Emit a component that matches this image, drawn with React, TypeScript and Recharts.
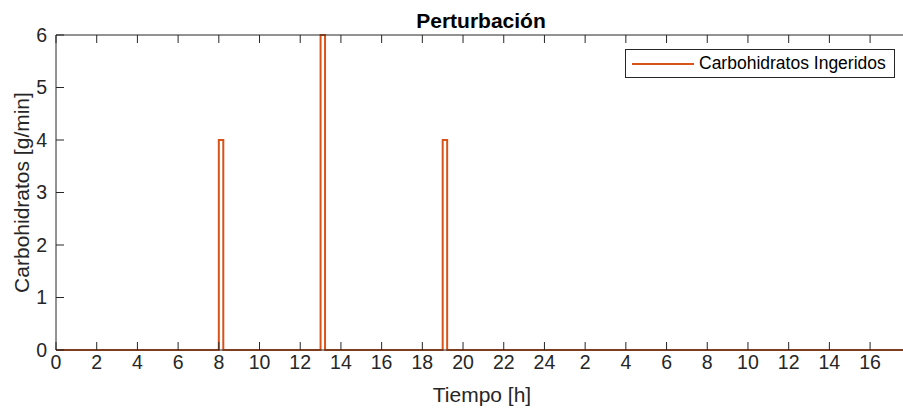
import { LineChart, Line, XAxis, YAxis } from "recharts";

// time in hours (simulation runs 2500 min), carbohydrate intake in g/min
const TIME_H = [0, 8, 8.22, 13, 13.22, 19, 19.22, 2500 / 60];
const CARBS = [0, 4, 0, 6, 0, 4, 0, 0];

const X_TICKS = [0, 2, 4, 6, 8, 10, 12, 14, 16, 18, 20, 22, 24, 26, 28, 30, 32, 34, 36, 38, 40];
const X_TICK_LABELS = ["0", "2", "4", "6", "8", "10", "12", "14", "16", "18", "20", "22", "24", "2", "4", "6", "8", "10", "12", "14", "16"];
const Y_TICKS = [0, 1, 2, 3, 4, 5, 6];

const FONT = '"Liberation Sans", Arial, Helvetica, sans-serif';
const AXIS = "#262626";
const ORANGE = "#D95319";

const W = 920;
const H = 409;
const PLOT = { left: 56, top: 35, right: 904, bottom: 350 };
const AX = 1; // thickness reserved for each axis

const data = TIME_H.map((t, i) => ({ t, carbs: CARBS[i] }));

const tickFont = { fontSize: 19.5, fill: AXIS, fontFamily: FONT };

export default function App() {
  return (
    <div
      style={{
        position: "absolute",
        left: 0,
        top: 0,
        width: 903,
        height: H,
        overflow: "hidden",
        background: "#fff",
      }}
    >
      <LineChart
        width={W}
        height={H}
        data={data}
        margin={{
          top: PLOT.top - AX,
          left: PLOT.left - AX,
          right: W - PLOT.right - AX,
          bottom: H - PLOT.bottom - AX,
        }}
      >
        <XAxis
          dataKey="t"
          type="number"
          domain={[0, 2500 / 60]}
          allowDataOverflow
          ticks={X_TICKS}
          interval={0}
          tickFormatter={(v: number) => X_TICK_LABELS[X_TICKS.indexOf(v)] ?? ""}
          height={AX}
          tickSize={-8}
          tickMargin={13}
          tick={tickFont}
          stroke={AXIS}
        />
        <XAxis
          xAxisId="top"
          orientation="top"
          dataKey="t"
          type="number"
          domain={[0, 2500 / 60]}
          allowDataOverflow
          ticks={X_TICKS}
          interval={0}
          tickFormatter={() => ""}
          height={AX}
          tickSize={-8}
          stroke={AXIS}
        />
        <YAxis
          type="number"
          domain={[0, 6]}
          ticks={Y_TICKS}
          interval={0}
          width={AX}
          tickSize={-8}
          tickMargin={17}
          tick={tickFont}
          stroke={AXIS}
        />
        <YAxis
          yAxisId="right"
          orientation="right"
          type="number"
          domain={[0, 6]}
          ticks={Y_TICKS}
          interval={0}
          width={AX}
          tickSize={-8}
          tickFormatter={() => ""}
          stroke={AXIS}
        />
        <Line
          type="stepAfter"
          dataKey="carbs"
          stroke={ORANGE}
          strokeWidth={2}
          dot={false}
          activeDot={false}
          isAnimationActive={false}
        />
      </LineChart>

      <svg
        width={903}
        height={H}
        style={{ position: "absolute", left: 0, top: 0, pointerEvents: "none" }}
      >
        <text x={481} y={28} textAnchor="middle" fontFamily={FONT} fontSize={21} fontWeight="bold" fill="#000">
          Perturbación
        </text>
        <text x={482} y={402} textAnchor="middle" fontFamily={FONT} fontSize={21} fill={AXIS}>
          Tiempo [h]
        </text>
        <text
          x={0}
          y={0}
          transform={`translate(29, ${(PLOT.top + PLOT.bottom) / 2}) rotate(-90)`}
          textAnchor="middle"
          fontFamily={FONT}
          fontSize={21}
          fill={AXIS}
        >
          Carbohidratos [g/min]
        </text>
      </svg>

      <div
        style={{
          position: "absolute",
          left: 625,
          top: 49,
          width: 268,
          height: 27,
          border: `1px solid ${AXIS}`,
          background: "#fff",
          display: "flex",
          alignItems: "center",
          fontFamily: FONT,
          fontSize: 17.5,
          color: "#000",
        }}
      >
        <svg width={68} height={4} style={{ flex: "none" }}>
          <line x1={6} x2={68} y1={2} y2={2} stroke={ORANGE} strokeWidth={2} />
        </svg>
        <span style={{ marginLeft: 5 }}>Carbohidratos Ingeridos</span>
      </div>
    </div>
  );
}
